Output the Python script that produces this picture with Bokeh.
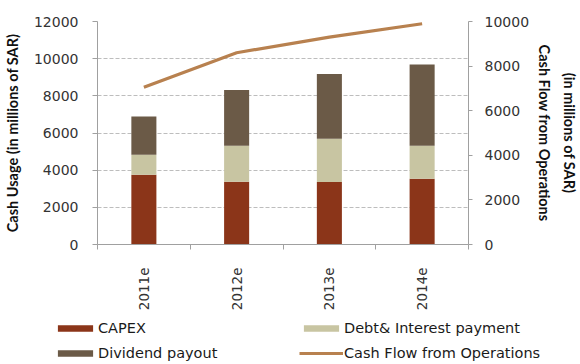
from bokeh.plotting import figure
from bokeh.layouts import column
from bokeh.models import (Range1d, LinearAxis, Legend, LegendItem, SingleIntervalTicker,
                          FixedTicker, FactorRange, Plot)
from bokeh.embed import file_html
from bokeh.resources import INLINE

years = ["2011e", "2012e", "2013e", "2014e"]
capex = [3750, 3380, 3360, 3540]
debt_interest = [1080, 1930, 2330, 1770]
dividend = [2060, 3010, 3490, 4370]
cash_flow_ops = [7050, 8600, 9300, 9900]

series_names = ["CAPEX", "Debt& Interest payment", "Dividend payout"]
colors = ["#8b3519", "#c8c5a2", "#6b5a47"]
line_color = "#b8814f"

TICK_FONT = "DejaVu Sans"
TITLE_FONT = "Lato"

p = figure(x_range=FactorRange(*years), y_range=Range1d(0, 12000),
           width=580, height=314, output_backend="svg", toolbar_location=None,
           min_border_left=97, min_border_right=109, min_border_top=21, min_border_bottom=70)
p.outline_line_color = None
p.background_fill_color = "white"
p.border_fill_color = "white"

src = {"years": years, "CAPEX": capex, "Debt& Interest payment": debt_interest,
       "Dividend payout": dividend}
bars = p.vbar_stack(series_names, x="years", width=0.27, color=colors, source=src,
                    line_color=None)

p.extra_y_ranges = {"cf": Range1d(0, 10000)}
ln = p.line(x=years, y=cash_flow_ops, y_range_name="cf", line_width=3.2, color=line_color)

# left axis
la = p.yaxis[0]
la.ticker = SingleIntervalTicker(interval=2000)
la.axis_label = "Cash Usage (in millions of SAR)"
la.axis_label_text_font = TITLE_FONT
la.axis_label_text_font_style = "bold"
la.axis_label_text_font_size = "14.5px"
la.axis_label_text_color = "#111111"
la.axis_label_standoff = 10
la.major_label_text_font = TICK_FONT
la.major_label_text_font_size = "14px"
la.major_label_text_color = "#333333"
la.major_label_standoff = 14
la.axis_line_color = "#a0a0a0"
la.major_tick_line_color = "#a0a0a0"
la.major_tick_out = 5
la.major_tick_in = 0
la.minor_tick_line_color = None

# right axis
ra = LinearAxis(y_range_name="cf", ticker=SingleIntervalTicker(interval=2000),
                axis_label="(in millions of SAR)\nCash Flow from Operations")
ra.axis_label_text_font = TITLE_FONT
ra.axis_label_text_font_style = "bold"
ra.axis_label_text_font_size = "14.5px"
ra.axis_label_text_line_height = 1.45
ra.axis_label_text_color = "#111111"
ra.axis_label_standoff = 4
ra.major_label_text_font = TICK_FONT
ra.major_label_text_font_size = "14px"
ra.major_label_text_color = "#333333"
ra.major_label_standoff = 12
ra.axis_line_color = "#a0a0a0"
ra.major_tick_line_color = "#a0a0a0"
ra.major_tick_out = 4
ra.major_tick_in = 0
ra.minor_tick_line_color = None
p.add_layout(ra, "right")

# grid
p.xgrid.grid_line_color = None
p.ygrid.grid_line_color = "#bdbdbd"
p.ygrid.grid_line_dash = "4 2"

# bottom: tick-only axis at category boundaries (synthetic coords), then category labels
ba = LinearAxis(ticker=FixedTicker(ticks=list(range(len(years) + 1))))
ba.major_label_text_font_size = "1px"
ba.major_label_text_color = None
ba.major_label_standoff = 0
ba.axis_line_color = "#a0a0a0"
ba.major_tick_line_color = "#a0a0a0"
ba.major_tick_out = 5
ba.major_tick_in = 0
ba.minor_tick_line_color = None

ca = p.xaxis[0]
ca.axis_line_color = None
ca.major_tick_line_color = None
ca.minor_tick_line_color = None
ca.major_label_orientation = 3.14159265 / 2
ca.major_label_text_font = TICK_FONT
ca.major_label_text_font_size = "13.5px"
ca.major_label_text_color = "#333333"
ca.major_label_standoff = 12
p.below = [ba, ca]

# legend strip below the chart (renderers styled like the chart's, kept off-screen)
lg = figure(width=580, height=50, output_backend="svg", toolbar_location=None,
            x_range=Range1d(0, 1), y_range=Range1d(0, 1),
            x_axis_type=None, y_axis_type=None, min_border=0)
lg.outline_line_color = None
lg.grid.grid_line_color = None
lg_bars = [lg.vbar(x=[-1], top=[-1], width=0.27, color=c, line_color=None) for c in colors]
lg_line = lg.line(x=[-1, -0.5], y=[-1, -1], line_width=3.2, color=line_color)

legend = Legend(items=[
    LegendItem(label="CAPEX", renderers=[lg_bars[0]]),
    LegendItem(label="Dividend payout", renderers=[lg_bars[2]]),
    LegendItem(label="Debt& Interest payment", renderers=[lg_bars[1]]),
    LegendItem(label="Cash Flow from Operations", renderers=[lg_line]),
], location=(53, 3), ncols=2, orientation="vertical")
legend.glyph_width = 44
legend.glyph_height = 8
legend.label_height = 17
legend.label_width = 193
legend.label_standoff = 1
legend.spacing = 8
legend.padding = 0
legend.margin = 0
legend.border_line_color = None
legend.background_fill_alpha = 0
legend.label_text_font = TICK_FONT
legend.label_text_font_size = "14.5px"
legend.label_text_color = "#1a1a1a"
lg.add_layout(legend)

if "frame_align" in Plot.properties():
    p.frame_align = False
    lg.frame_align = False
    html = file_html(column(p, lg, spacing=0), INLINE)
else:
    html = file_html([p, lg], INLINE)
open("out.html", "w").write(html)
